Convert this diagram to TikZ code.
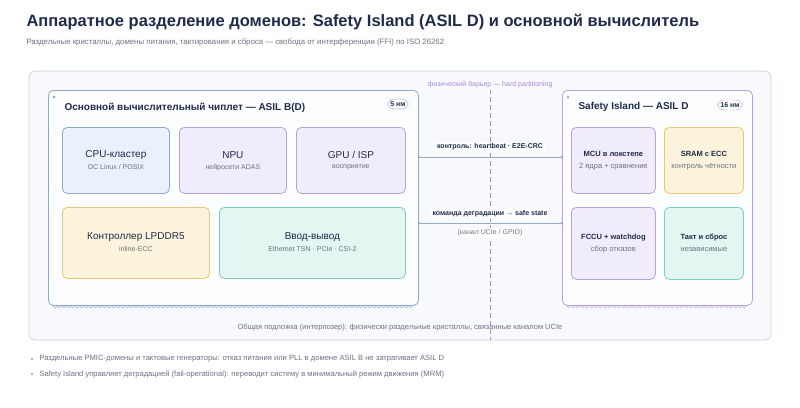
\documentclass[tikz,border=0pt]{standalone}
\usepackage{fontspec}
\setmainfont{Liberation Sans}
\definecolor{ink}{HTML}{1E2B4A}
\definecolor{gry}{HTML}{6B7280}
\definecolor{bB}{HTML}{8FA8D0}\definecolor{bF}{HTML}{EAF1FB}
\definecolor{pB}{HTML}{B9A3DF}\definecolor{pF}{HTML}{F1ECFB}
\definecolor{yB}{HTML}{E5C878}\definecolor{yF}{HTML}{FCF3DC}
\definecolor{tB}{HTML}{7DCFC0}\definecolor{tF}{HTML}{E3F6F2}
\definecolor{bar}{HTML}{A78BDA}
\definecolor{conC}{HTML}{9AAAC4}
\definecolor{outB}{HTML}{C9D2DF}\definecolor{outF}{HTML}{F7F9FC}
\begin{document}
\begin{tikzpicture}[x=1pt,y=-1pt,
 box/.style={draw, rounded corners=5pt, line width=0.8pt},
 cpu/.style={box, draw=bB, fill=bF},
 pur/.style={box, draw=pB, fill=pF},
 yel/.style={box, draw=yB, fill=yF},
 tea/.style={box, draw=tB, fill=tF},
 h/.style={font=\fontsize{10}{11}\selectfont, text=ink},
 s/.style={font=\fontsize{7}{8}\selectfont, text=gry},
 hs/.style={font=\fontsize{7.5}{8}\selectfont\bfseries, text=ink},
 ss/.style={font=\fontsize{7.5}{8}\selectfont, text=gry},
 lab/.style={font=\fontsize{7}{8}\selectfont\bfseries, text=ink, fill=white, inner sep=2pt},
 badge/.style={draw=bB, rounded corners=6pt, fill=white, font=\fontsize{7}{8}\selectfont\bfseries, text=ink, inner sep=2.5pt},
 conn/.style={draw=conC, line width=0.9pt}]
\useasboundingbox (0,0) rectangle (800,407);
\fill[white] (0,0) rectangle (800,407);
\node[anchor=west, font=\fontsize{16.5}{18}\selectfont\bfseries, text=ink] (title) at (23,22) {Аппаратное разделение доменов: Safety Island (ASIL D) и основной вычислитель};
\node[anchor=west, font=\fontsize{7.8}{9}\selectfont, text=gry] (sub) at (23,42) {Раздельные кристаллы, домены питания, тактирования и сброса — свобода от интерференции (FFI) по ISO 26262};
\draw[rounded corners=6pt, draw=outB, fill=outF, line width=0.8pt] (29,71) rectangle (771,340);
\foreach \x in {55,59.5,...,413} \draw[bB, line width=0.4pt] (\x,306.5) circle (1.6);
\foreach \x in {569,573.5,...,747} \draw[pB, line width=0.4pt] (\x,306.5) circle (1.6);
\node[box, draw=bB, fill=white!60!outF, minimum width=370, minimum height=215, anchor=north west] (main) at (48,90) {};
\node[box, draw=pB, fill=white!60!outF, minimum width=190, minimum height=215, anchor=north west] (safe) at (562,90) {};
\fill[bB] (54,97) circle (1.5);
\fill[pB] (568,97) circle (1.5);
\node[anchor=west, font=\fontsize{10}{11}\selectfont\bfseries, text=ink] (mt) at (61,108) {Основной вычислительный чиплет — ASIL B(D)};
\node[badge] (b1) at (398,104) {5 нм};
\node[anchor=west, font=\fontsize{10}{11}\selectfont\bfseries, text=ink] (st) at (575,107) {Safety Island — ASIL D};
\node[badge, draw=pB] (b2) at (730,105) {16 нм};
\node[cpu, minimum width=107, minimum height=66, anchor=north west] (cpu) at (62,127) {};
\node[h] at ([yshift=5]cpu.center) {CPU-кластер}; \node[s] at ([yshift=-7]cpu.center) {ОС Linux / POSIX};
\node[pur, minimum width=107, minimum height=66, anchor=north west] (npu) at (179,127) {};
\node[h] at ([yshift=5]npu.center) {NPU}; \node[s] at ([yshift=-7]npu.center) {нейросети ADAS};
\node[pur, minimum width=109, minimum height=66, anchor=north west] (gpu) at (296,127) {};
\node[h] at ([yshift=5]gpu.center) {GPU / ISP}; \node[s] at ([yshift=-7]gpu.center) {восприятие};
\node[yel, minimum width=147, minimum height=71, anchor=north west] (mem) at (62,207) {};
\node[h] at ([yshift=6]mem.center) {Контроллер LPDDR5}; \node[s] at ([yshift=-6]mem.center) {inline-ECC};
\node[tea, minimum width=186, minimum height=71, anchor=north west] (io) at (219,207) {};
\node[h] at ([yshift=6]io.center) {Ввод-вывод}; \node[s] at ([yshift=-6]io.center) {Ethernet TSN · PCIe · CSI-2};
\node[pur, minimum width=84, minimum height=66, anchor=north west] (mcu) at (571,127) {};
\node[hs] at ([yshift=6]mcu.center) {MCU в локстепе}; \node[ss] at ([yshift=-6]mcu.center) {2 ядра + сравнение};
\node[yel, minimum width=79, minimum height=66, anchor=north west] (sram) at (664,127) {};
\node[hs] at ([yshift=6]sram.center) {SRAM с ECC}; \node[ss] at ([yshift=-6]sram.center) {контроль чётности};
\node[pur, minimum width=84, minimum height=72, anchor=north west] (fccu) at (571,207) {};
\node[hs] at ([yshift=6]fccu.center) {FCCU + watchdog}; \node[ss] at ([yshift=-6]fccu.center) {сбор отказов};
\node[tea, minimum width=79, minimum height=72, anchor=north west] (clk) at (664,207) {};
\node[hs] at ([yshift=6]clk.center) {Такт и сброс}; \node[ss] at ([yshift=-6]clk.center) {независимые};
\coordinate (bt) at (490,89); \coordinate (bb) at (490,340);
\draw[bar, dash pattern=on 5pt off 3pt, line width=0.8pt] (bt) -- (bb);
\node[font=\fontsize{7}{8}\selectfont, text=bar, fill=outF, inner sep=2pt] (bl) at (490,85) {физический барьер — hard partitioning};
\coordinate (c1a) at (main.east |- 0,157); \coordinate (c1b) at (safe.west |- 0,157);
\coordinate (c2a) at (main.east |- 0,223); \coordinate (c2b) at (safe.west |- 0,223);
\draw[conn] (c1a) -- (c1b); \draw[conn] (c2a) -- (c2b);
\foreach \c in {c1a,c1b,c2a,c2b} \fill[conC] (\c) circle (1.3);
\node[lab] (l1) at (490,147) {контроль: heartbeat · E2E-CRC};
\node[lab] (l2) at (490,214) {команда деградации → safe state};
\node[font=\fontsize{7}{8}\selectfont, text=gry, fill=white, inner sep=2pt] (l3) at (490,233) {(канал UCIe / GPIO)};
\node[font=\fontsize{7.5}{8}\selectfont, text=gry] (sub2) at (400,328) {Общая подложка (интерпозер): физически раздельные кристаллы, связанные каналом UCIe};
\fill[gry!70] (32,359) circle (1.1); \fill[gry!70] (32,374) circle (1.1);
\node[anchor=west, font=\fontsize{7.6}{8}\selectfont, text=gry] (n1) at (36,359) {Раздельные PMIC-домены и тактовые генераторы: отказ питания или PLL в домене ASIL B не затрагивает ASIL D};
\node[anchor=west, font=\fontsize{7.6}{8}\selectfont, text=gry] (n2) at (36,374) {Safety Island управляет деградацией (fail-operational): переводит систему в минимальный режим движения (MRM)};
\end{tikzpicture}
\end{document}
